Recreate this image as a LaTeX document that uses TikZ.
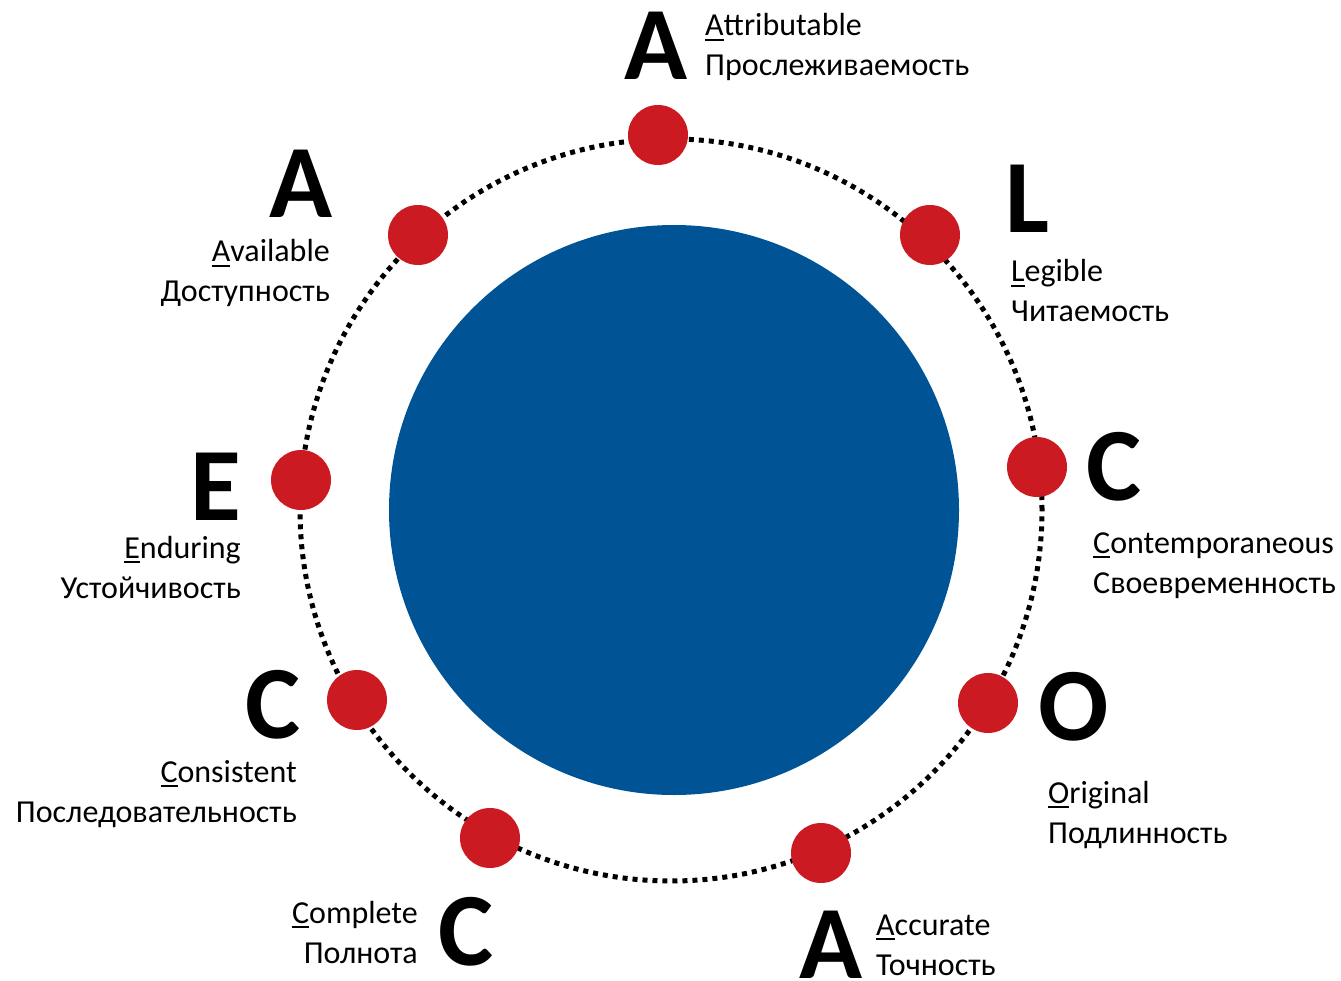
\documentclass[tikz,border=0pt]{standalone}
\usepackage{fontspec}
\setmainfont{Carlito}
\definecolor{dotred}{RGB}{204,26,34}
\definecolor{coreblue}{RGB}{0,84,150}
\newcommand\bigf{\fontsize{104}{104}\selectfont\bfseries}
\newcommand\txtf{\fontsize{32}{40}\selectfont}
\newcommand\firstul[1]{\setbox0\hbox{#1}\rlap{\rule[-5pt]{\wd0}{2.4pt}}\box0}
\tikzset{
  bigletter/.style={font=\bigf, inner sep=0pt, anchor=base west},
  txtl/.style={font=\txtf, inner sep=0pt, anchor=base west},
  txtr/.style={font=\txtf, inner sep=0pt, anchor=base east},
  reddot/.style={circle, fill=dotred, minimum size=60pt, inner sep=0pt},
  ring/.style={line width=5pt, dash pattern=on 5pt off 5pt}
}
\begin{document}
\begin{tikzpicture}[x=1pt, y=-1pt]
\useasboundingbox (0,0) rectangle (1341,981);
\node[circle, minimum size=742pt, inner sep=0pt] (ringc) at (671,510) {};
\draw[ring] (ringc.center) circle[radius=371pt];
\node[circle, fill=coreblue, minimum size=570pt, inner sep=0pt] (core) at (674,510) {};
% dots
\node[reddot] (d1) at (658,135) {};
\node[reddot] (d2) at (930,235) {};
\node[reddot] (d3) at (1037,467) {};
\node[reddot] (d4) at (988,703) {};
\node[reddot] (d5) at (821,853) {};
\node[reddot] (d6) at (490,838) {};
\node[reddot] (d7) at (357,700) {};
\node[reddot] (d8) at (301,480) {};
\node[reddot] (d9) at (418,235) {};
% big letters
\node[bigletter] (b1) at (624,80) {A};
\node[bigletter] (b2) at (1005,233) {L};
\node[bigletter] (b3) at (1086,500) {C};
\node[bigletter] (b4) at (1038,740) {O};
\node[bigletter] (b5) at (799,978) {A};
\node[bigletter] (b6) at (438,965) {C};
\node[bigletter] (b7) at (245,738) {C};
\node[bigletter] (b8) at (190,520) {E};
\node[bigletter] (b9) at (269,218) {A};
% labels
\node[txtl] (t1a) at (705,36) {\firstul{A}ttributable};
\node[txtl] (t1b) at (705,76) {Прослеживаемость};
\node[txtl] (t2a) at (1011,282) {\firstul{L}egible};
\node[txtl] (t2b) at (1011,322) {Читаемость};
\node[txtl] (t3a) at (1093,553) {\firstul{C}ontemporaneous};
\node[txtl] (t3b) at (1093,593) {Своевременность};
\node[txtl] (t4a) at (1048,803) {\firstul{O}riginal};
\node[txtl] (t4b) at (1048,843) {Подлинность};
\node[txtl] (t5a) at (876,935) {\firstul{A}ccurate};
\node[txtl] (t5b) at (876,975) {Точность};
\node[txtr] (t6a) at (418,923) {\firstul{C}omplete};
\node[txtr] (t6b) at (418,963) {Полнота};
\node[txtr] (t7a) at (297,782) {\firstul{C}onsistent};
\node[txtr] (t7b) at (297,822) {Последовательность};
\node[txtr] (t8a) at (241,558) {\firstul{E}nduring};
\node[txtr] (t8b) at (241,598) {Устойчивость};
\node[txtr] (t9a) at (330,262) {\firstul{A}vailable};
\node[txtr] (t9b) at (330,302) {Доступность};
\end{tikzpicture}
\end{document}
